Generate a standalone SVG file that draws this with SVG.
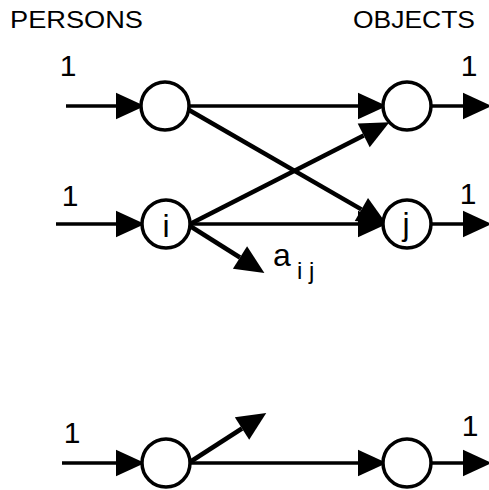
<svg xmlns="http://www.w3.org/2000/svg" width="489" height="490" viewBox="0 0 489 490">
<style>
.node{fill:#fff;stroke:#000;stroke-width:3.5}
.h{stroke:#000;stroke-width:3.5;fill:none}
.d{stroke:#000;stroke-width:4.5;fill:none}
text{font-family:"Liberation Sans",Arial,sans-serif;fill:#000}
.hdr{font-size:23px}
.in{font-size:30px;text-anchor:middle}
.cl{font-size:32px;text-anchor:middle}
</style>
<defs>
<marker id="ah" markerUnits="userSpaceOnUse" markerWidth="30" markerHeight="30" refX="0" refY="0" viewBox="0 -12 26 24" orient="auto" overflow="visible">
<path d="M0,-11.5 L25,0 L0,11.5 Z" fill="#000"/>
</marker>
</defs>
<rect width="489" height="490" fill="#fff"/>
<text class="hdr" x="10" y="28" textLength="133" lengthAdjust="spacingAndGlyphs">PERSONS</text>
<text class="hdr" x="353" y="28" textLength="122" lengthAdjust="spacingAndGlyphs">OBJECTS</text>
<g id="connectors">
<line class="h" x1="66" y1="106" x2="116" y2="106" marker-end="url(#ah)"/>
<line class="h" x1="189" y1="106" x2="358" y2="106" marker-end="url(#ah)"/>
<line class="h" x1="432" y1="106" x2="463" y2="106" marker-end="url(#ah)"/>
<line class="d" x1="189" y1="110" x2="361.4" y2="209.4" marker-end="url(#ah)"/>
<line class="d" x1="190" y1="224" x2="363.7" y2="135.4" marker-end="url(#ah)"/>
<line class="h" x1="56" y1="224" x2="116" y2="224" marker-end="url(#ah)"/>
<line class="h" x1="190" y1="224" x2="358" y2="224" marker-end="url(#ah)"/>
<line class="h" x1="431" y1="224" x2="463" y2="224" marker-end="url(#ah)"/>
<line class="d" x1="190" y1="226" x2="240" y2="257.5" marker-end="url(#ah)"/>
<line class="h" x1="62" y1="463" x2="116" y2="463" marker-end="url(#ah)"/>
<line class="d" x1="190" y1="462" x2="242" y2="428.5" marker-end="url(#ah)"/>
<line class="h" x1="190" y1="463" x2="358" y2="463" marker-end="url(#ah)"/>
<line class="h" x1="432" y1="463" x2="463" y2="463" marker-end="url(#ah)"/>
</g>
<g id="p1"><circle class="node" cx="165" cy="106" r="24"/></g>
<g id="o1"><circle class="node" cx="407" cy="106" r="24"/></g>
<g id="pi"><circle class="node" cx="166" cy="224" r="24"/><text class="cl" x="166" y="237">i</text></g>
<g id="oj"><circle class="node" cx="407" cy="224" r="24"/><text class="cl" x="406" y="235">j</text></g>
<g id="pn"><circle class="node" cx="166" cy="463" r="24"/></g>
<g id="on"><circle class="node" cx="407" cy="463" r="24"/></g>
<g id="labels">
<text class="in" x="68" y="76">1</text>
<text class="in" x="469" y="76">1</text>
<text class="in" x="70" y="206">1</text>
<text class="in" x="468" y="204">1</text>
<text class="in" x="72" y="443">1</text>
<text class="in" x="470" y="436">1</text>
<text x="273" y="266" font-size="32">a</text>
<text x="297" y="279" font-size="24">i j</text>
</g>
</svg>
